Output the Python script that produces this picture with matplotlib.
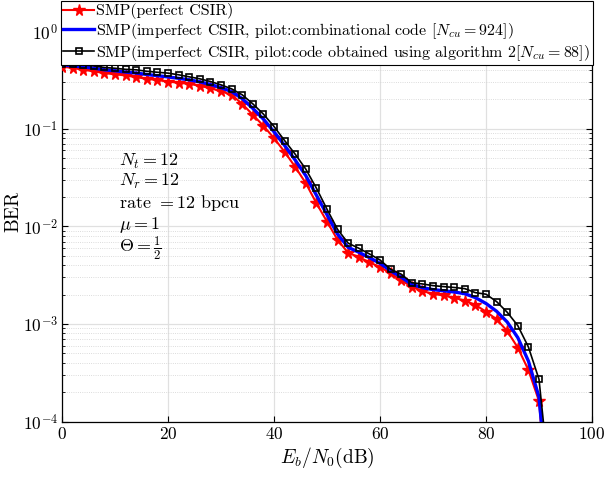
import numpy as np
import matplotlib
matplotlib.use("Agg")
import matplotlib.pyplot as plt
from matplotlib.ticker import LogLocator, NullFormatter

plt.rcParams.update({
    "font.family": "serif",
    "font.serif": ["cmr10"],
    "mathtext.fontset": "cm",
    "axes.formatter.use_mathtext": True,
    "axes.unicode_minus": False,
})

# Eb/N0 grid (dB)
snr = np.arange(0, 94, 2)

# log10(BER)
red_log = [-0.364, -0.374, -0.395, -0.41, -0.429, -0.441, -0.453, -0.47, -0.487, -0.50,
           -0.515, -0.528, -0.538, -0.559, -0.583, -0.615, -0.651, -0.744, -0.856, -0.969,
           -1.095, -1.236, -1.39, -1.557, -1.762, -1.951, -2.138, -2.272, -2.313, -2.369,
           -2.415, -2.482, -2.554, -2.617, -2.662, -2.692, -2.708, -2.731, -2.761, -2.805,
           -2.874, -2.952, -3.072, -3.243, -3.472, -3.79, -5.07]
blue_log = [-0.345, -0.355, -0.365, -0.378, -0.395, -0.405, -0.418, -0.428, -0.443, -0.455,
            -0.468, -0.482, -0.498, -0.518, -0.545, -0.578, -0.618, -0.69, -0.79, -0.90,
            -1.03, -1.17, -1.32, -1.48, -1.68, -1.88, -2.08, -2.215, -2.265, -2.32,
            -2.378, -2.455, -2.52, -2.595, -2.628, -2.648, -2.66, -2.672, -2.69, -2.73,
            -2.79, -2.87, -2.98, -3.14, -3.38, -3.75, -4.9]
black_log = [-0.333, -0.338, -0.344, -0.354, -0.371, -0.379, -0.39, -0.395, -0.41, -0.42,
             -0.429, -0.446, -0.467, -0.487, -0.515, -0.549, -0.59, -0.651, -0.744, -0.849,
             -0.976, -1.12, -1.26, -1.413, -1.608, -1.824, -2.031, -2.172, -2.224, -2.282,
             -2.344, -2.439, -2.49, -2.577, -2.59, -2.607, -2.617, -2.626, -2.638, -2.679,
             -2.695, -2.771, -2.88, -3.017, -3.236, -3.567, -4.62]

ber_red = 10.0 ** np.array(red_log)
ber_blue = 10.0 ** np.array(blue_log)
ber_black = 10.0 ** np.array(black_log)

labels = [
    "SMP(perfect CSIR)",
    r"SMP(imperfect CSIR, pilot:combinational code $[N_{cu}=924]$)",
    r"SMP(imperfect CSIR, pilot:code obtained using algorithm 2$[N_{cu}=88]$)",
]
notes = [r"$N_t=12$", r"$N_r=12$", r"rate $=12$ bpcu", r"$\mu=1$", r"$\Theta=\frac{1}{2}$"]

fig = plt.figure(figsize=(6.05, 4.79), dpi=100)
ax = fig.add_axes([0.1025, 0.12, 0.876, 0.876])

ax.semilogy(snr, ber_red, color="red", lw=1.5, marker="*", ms=8.5, mec="red", mfc="red",
            label=labels[0], zorder=3)
ax.semilogy(snr, ber_blue, color="blue", lw=2.4, label=labels[1], zorder=4)
ax.semilogy(snr, ber_black, color="black", lw=1.2, marker="s", ms=5, mfc="none", mec="black",
            mew=1.2, label=labels[2], zorder=5)

ax.set_xlim(0, 100)
ax.set_ylim(1e-4, 2)
ax.set_xticks([0, 20, 40, 60, 80, 100])
ax.yaxis.set_major_locator(LogLocator(base=10, numticks=10))
ax.yaxis.set_minor_locator(LogLocator(base=10, subs=np.arange(2, 10), numticks=20))
ax.yaxis.set_minor_formatter(NullFormatter())
ax.tick_params(which="both", direction="in", top=True, right=True, labelsize=12.5)
ax.tick_params(which="major", length=4, pad=3)
ax.tick_params(which="minor", length=2)
ax.grid(True, which="major", color="#e0e0e0", lw=0.9)
ax.grid(True, which="minor", axis="y", color="#d0d0d0", lw=0.6, ls=":")
ax.set_axisbelow(True)
for sp in ax.spines.values():
    sp.set_linewidth(0.9)

ax.set_xlabel(r"$E_b/N_0$(dB)", fontsize=14, labelpad=3)
ax.set_ylabel("BER", fontsize=14)
ax.yaxis.set_label_coords(-0.074, 0.5)

note_y = [0.619, 0.572, 0.52, 0.468, 0.414]
for txt, yy in zip(notes, note_y):
    ax.text(0.108, yy, txt, transform=ax.transAxes, fontsize=13, ha="left", va="center")

leg = ax.legend(loc="upper left", bbox_to_anchor=(0.1008, 0.998), bbox_transform=fig.transFigure,
                fontsize=11.5, frameon=True, fancybox=False, framealpha=1, edgecolor="black",
                borderpad=0.15, labelspacing=0.1, handlelength=1.9, handletextpad=0.15,
                borderaxespad=0)
leg.get_frame().set_linewidth(0.8)

fig.savefig("out.png", dpi=100)
